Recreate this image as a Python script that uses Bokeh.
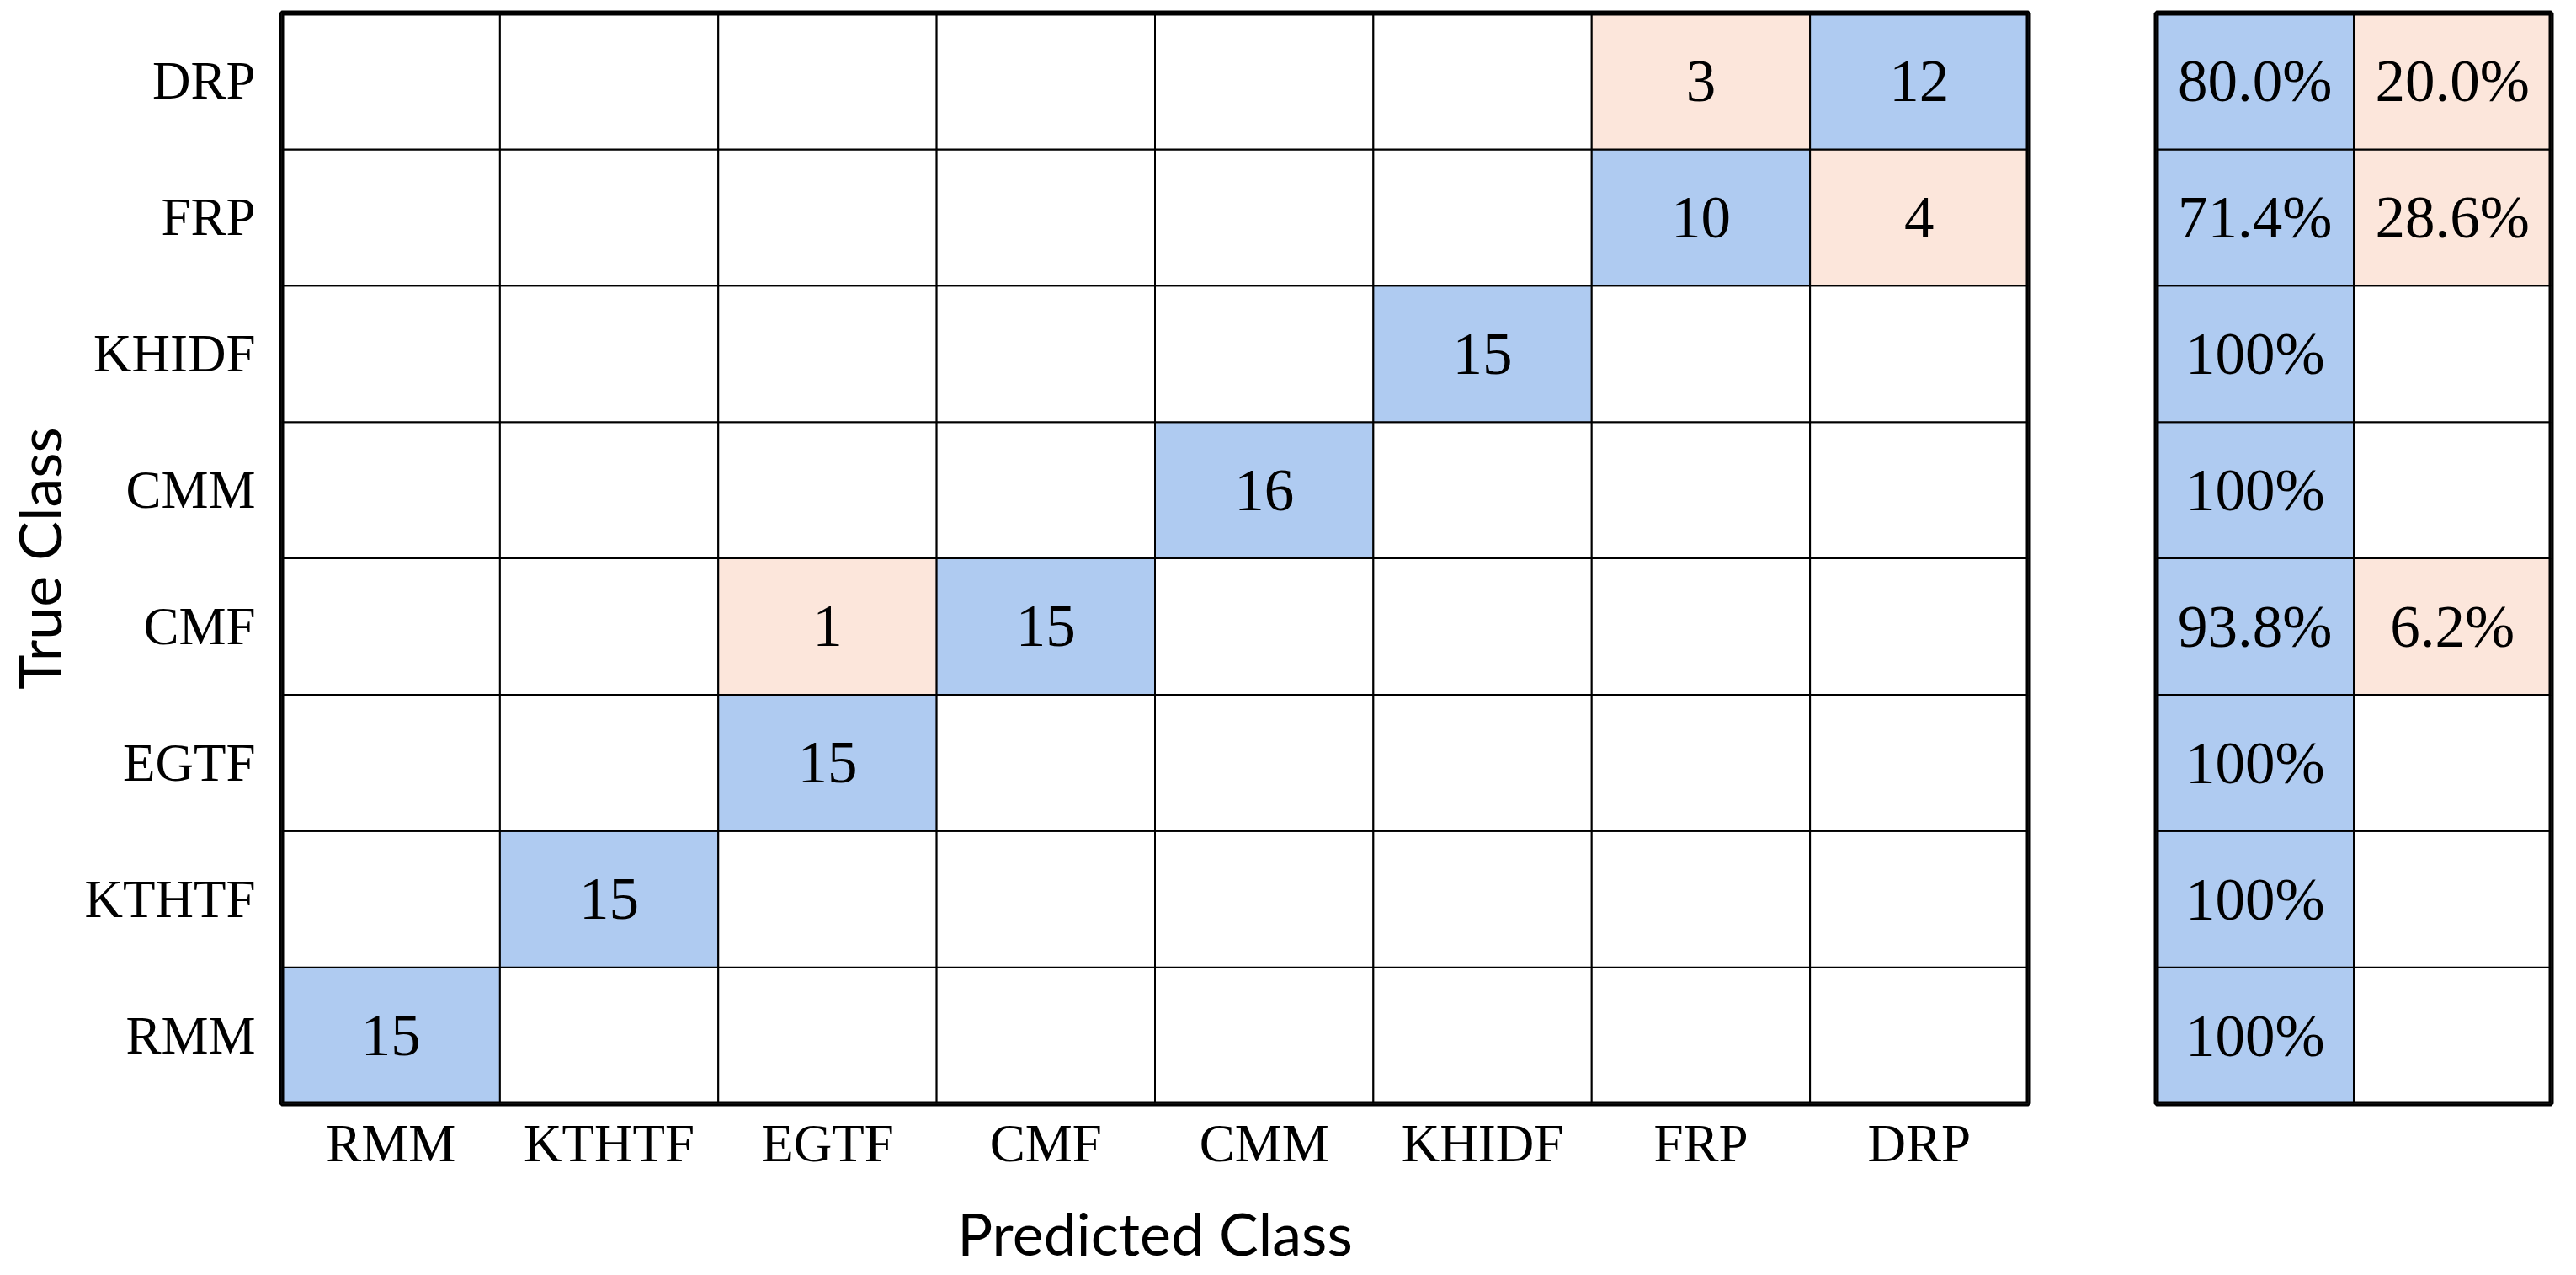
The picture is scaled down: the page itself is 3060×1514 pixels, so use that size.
from bokeh.plotting import figure
from bokeh.models import FactorRange, ColumnDataSource, BoxAnnotation
from bokeh.layouts import row
from bokeh.embed import file_html
from bokeh.resources import INLINE
from bokeh.core.properties import value

# ---- data ----
classes = ["RMM", "KTHTF", "EGTF", "CMF", "CMM", "KHIDF", "FRP", "DRP"]
# rows = true class, columns = predicted class (order of `classes`)
row_RMM   = [15, 0, 0, 0, 0, 0, 0, 0]
row_KTHTF = [0, 15, 0, 0, 0, 0, 0, 0]
row_EGTF  = [0, 0, 15, 0, 0, 0, 0, 0]
row_CMF   = [0, 0, 1, 15, 0, 0, 0, 0]
row_CMM   = [0, 0, 0, 0, 16, 0, 0, 0]
row_KHIDF = [0, 0, 0, 0, 0, 15, 0, 0]
row_FRP   = [0, 0, 0, 0, 0, 0, 10, 4]
row_DRP   = [0, 0, 0, 0, 0, 0, 3, 12]
rows = [row_RMM, row_KTHTF, row_EGTF, row_CMF, row_CMM, row_KHIDF, row_FRP, row_DRP]

correct_pct = [100, 100, 100, 93.8, 100, 100, 71.4, 80.0]
wrong_pct = [0, 0, 0, 6.2, 0, 0, 28.6, 20.0]
side_cols = ["correct", "wrong"]

BLUE = "#AFCBF1"
PEACH = "#FCE6DB"
SERIF = "Liberation Serif"
SANS = "Lato"

# ---- main matrix ----
xs, ys, fills, labels = [], [], [], []
for i, t in enumerate(classes):
    for j, pcls in enumerate(classes):
        v = rows[i][j]
        xs.append(pcls)
        ys.append(t)
        if v == 0:
            fills.append("white")
            labels.append("")
        else:
            fills.append(BLUE if i == j else PEACH)
            labels.append(str(v))
src = ColumnDataSource(dict(x=xs, y=ys, fill=fills, label=labels))

p = figure(x_range=FactorRange(*classes), y_range=FactorRange(*classes),
           frame_width=2075, frame_height=1295,
           min_border_left=330, min_border_top=15, min_border_bottom=180,
           min_border_right=20,
           output_backend="svg", toolbar_location=None, tools="")
p.rect(x="x", y="y", width=1, height=1, source=src, fill_color="fill",
       line_color="black", line_width=2)
p.text(x="x", y="y", text="label", source=src, text_align="center",
       text_baseline="middle", text_font=value(SERIF), text_font_size="71px",
       text_color="black")
p.grid.visible = False
p.outline_line_color = "black"
p.outline_line_width = 6
p.outline_line_alpha = 1
p.add_layout(BoxAnnotation(fill_color=None, fill_alpha=0, line_color="black",
                           line_width=6, line_alpha=1, level="overlay"))
for ax in (p.xaxis[0], p.yaxis[0]):
    ax.axis_line_color = None
    ax.major_tick_line_color = None
    ax.minor_tick_line_color = None
    ax.major_tick_out = 0
    ax.major_tick_in = 0
    ax.major_label_text_font = SERIF
    ax.major_label_text_font_size = "63px"
    ax.major_label_text_color = "black"
    ax.axis_label_text_font = SANS
    ax.axis_label_text_font_size = "70px"
    ax.axis_label_text_font_style = "normal"
    ax.axis_label_text_color = "black"
p.xaxis.axis_label = "Predicted Class"
p.yaxis.axis_label = "True Class"
p.xaxis.major_label_standoff = 12
p.yaxis.major_label_standoff = 31
p.xaxis.axis_label_standoff = 26
p.yaxis.axis_label_standoff = 10

# ---- side panel ----
sx, sy, sfill, slab = [], [], [], []
def fmt(v):
    if v == 0:
        return ""
    if v == 100:
        return "100%"
    return f"{v:.1f}%"
for i, t in enumerate(classes):
    sx.append("correct"); sy.append(t); sfill.append(BLUE); slab.append(fmt(correct_pct[i]))
    sx.append("wrong"); sy.append(t)
    sfill.append(PEACH if wrong_pct[i] > 0 else "white"); slab.append(fmt(wrong_pct[i]))
ssrc = ColumnDataSource(dict(x=sx, y=sy, fill=sfill, label=slab))

q = figure(x_range=FactorRange(*side_cols), y_range=FactorRange(*classes),
           frame_width=469, frame_height=1295,
           min_border_left=132, min_border_top=15, min_border_bottom=180,
           min_border_right=10,
           output_backend="svg", toolbar_location=None, tools="")
q.rect(x="x", y="y", width=1, height=1, source=ssrc, fill_color="fill",
       line_color="black", line_width=2)
q.text(x="x", y="y", text="label", source=ssrc, text_align="center",
       text_baseline="middle", text_font=value(SERIF), text_font_size="71px",
       text_color="black")
q.grid.visible = False
q.axis.visible = False
q.outline_line_color = "black"
q.outline_line_width = 6
q.outline_line_alpha = 1
q.add_layout(BoxAnnotation(fill_color=None, fill_alpha=0, line_color="black",
                           line_width=6, line_alpha=1, level="overlay"))

layout = row(p, q, spacing=0)
open("out.html", "w").write(file_html(layout, INLINE))
